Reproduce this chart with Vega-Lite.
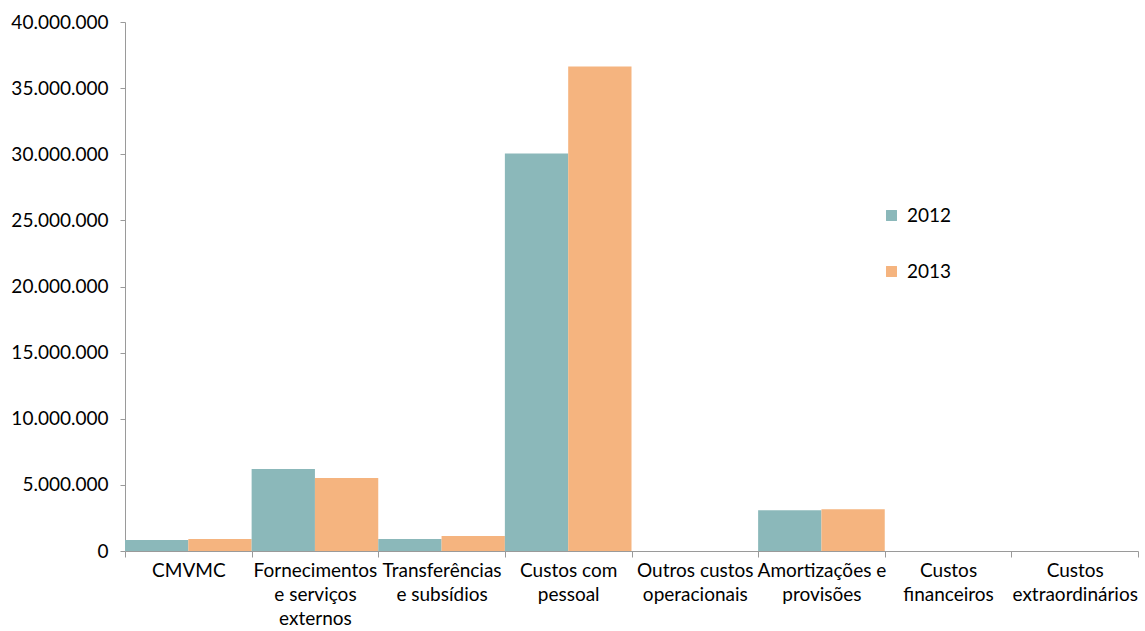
{
  "$schema": "https://vega.github.io/schema/vega-lite/v6.json",
  "width": 1013,
  "height": 529,
  "autosize": {"type": "none"},
  "padding": {"left": 125, "top": 22, "right": 7, "bottom": 80},
  "background": "white",
  "config": {
    "view": {"stroke": null},
    "font": "Lato",
    "axis": {"labelFont": "Lato", "labelFontSize": 19, "labelColor": "#000000", "domainColor": "#9a9a9a", "tickColor": "#9a9a9a", "grid": false, "title": null}
  },
  "data": {
    "values": [
      {"categoria": "CMVMC", "ano": "2012", "valor": 830000},
      {"categoria": "CMVMC", "ano": "2013", "valor": 900000},
      {"categoria": "Fornecimentos e serviços externos", "ano": "2012", "valor": 6200000},
      {"categoria": "Fornecimentos e serviços externos", "ano": "2013", "valor": 5520000},
      {"categoria": "Transferências e subsídios", "ano": "2012", "valor": 900000},
      {"categoria": "Transferências e subsídios", "ano": "2013", "valor": 1130000},
      {"categoria": "Custos com pessoal", "ano": "2012", "valor": 30050000},
      {"categoria": "Custos com pessoal", "ano": "2013", "valor": 36630000},
      {"categoria": "Outros custos operacionais", "ano": "2012", "valor": 0},
      {"categoria": "Outros custos operacionais", "ano": "2013", "valor": 0},
      {"categoria": "Amortizações e provisões", "ano": "2012", "valor": 3080000},
      {"categoria": "Amortizações e provisões", "ano": "2013", "valor": 3150000},
      {"categoria": "Custos financeiros", "ano": "2012", "valor": 0},
      {"categoria": "Custos financeiros", "ano": "2013", "valor": 0},
      {"categoria": "Custos extraordinários", "ano": "2012", "valor": 0},
      {"categoria": "Custos extraordinários", "ano": "2013", "valor": 0}
    ]
  },
  "mark": {"type": "bar"},
  "encoding": {
    "x": {
      "field": "categoria",
      "type": "nominal",
      "sort": null,
      "scale": {"paddingInner": 0, "paddingOuter": 0},
      "axis": {
        "labelAngle": 0,
        "tickBand": "extent",
        "tickSize": 6,
        "labelPadding": 4,
        "labelLineHeight": 24,
        "labelBaseline": "top",
        "labelExpr": "datum.value == 'Fornecimentos e serviços externos' ? ['Fornecimentos', 'e serviços', 'externos'] : datum.value == 'Transferências e subsídios' ? ['Transferências', 'e subsídios'] : datum.value == 'Custos com pessoal' ? ['Custos com', 'pessoal'] : datum.value == 'Outros custos operacionais' ? ['Outros custos', 'operacionais'] : datum.value == 'Amortizações e provisões' ? ['Amortizações e', 'provisões'] : datum.value == 'Custos financeiros' ? ['Custos', 'financeiros'] : datum.value == 'Custos extraordinários' ? ['Custos', 'extraordinários'] : datum.value"
      }
    },
    "xOffset": {"field": "ano", "type": "nominal", "scale": {"paddingInner": 0, "paddingOuter": 0}},
    "y": {
      "field": "valor",
      "type": "quantitative",
      "scale": {"domain": [0, 40000000], "nice": false},
      "axis": {
        "values": [0, 5000000, 10000000, 15000000, 20000000, 25000000, 30000000, 35000000, 40000000],
        "tickSize": 5,
        "labelPadding": 12,
        "labelExpr": "replace(format(datum.value, ','), regexp(',', 'g'), '.')"
      }
    },
    "color": {
      "field": "ano",
      "type": "nominal",
      "scale": {"domain": ["2012", "2013"], "range": ["#8bb8ba", "#f5b47f"]},
      "legend": {
        "title": null,
        "orient": "none",
        "legendX": 757,
        "legendY": 184,
        "symbolType": "square",
        "symbolSize": 120,
        "symbolStrokeWidth": 0,
        "labelFontSize": 19,
        "labelFont": "Lato",
        "labelColor": "#000000",
        "rowPadding": 36,
        "labelOffset": 6
      }
    }
  }
}
